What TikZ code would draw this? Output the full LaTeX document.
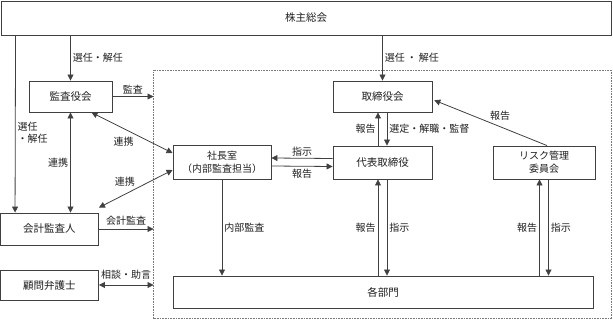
\documentclass[tikz,border=0pt]{standalone}
\usepackage{fontspec}
\setmainfont{Noto Sans CJK JP}
\usetikzlibrary{arrows.meta,positioning,calc}
\definecolor{ln}{HTML}{404040}
\definecolor{txt}{HTML}{202020}
\tikzset{
  box/.style={draw=ln,line width=0.9pt,fill=white,align=center,inner sep=2pt,font=\fontsize{10.5}{13}\selectfont,text=txt},
  lbl/.style={font=\fontsize{10}{12}\selectfont,text=txt,inner sep=2pt},
  ar/.style={-{Triangle[length=6pt,width=6pt]},line width=0.8pt,draw=ln},
  dar/.style={{Triangle[length=6pt,width=6pt]}-{Triangle[length=6pt,width=6pt]},line width=0.8pt,draw=ln},
}
\begin{document}
\begin{tikzpicture}[x=1pt,y=-1pt]
\useasboundingbox (0,0) rectangle (613,320);
% frame of the company side
\draw[ln!70,densely dotted,line width=0.6pt] (153.5,70.5) rectangle (611.5,318.5);
\coordinate (frameW) at (153.5,70.5);

% boxes
\node[box,minimum width=610pt,minimum height=34pt] (soukai) at (306,18) {株主総会};
\node[box,minimum width=83pt,minimum height=31pt] (kansa) at (70.5,96.5) {監査役会};
\node[box,minimum width=99pt,minimum height=31pt] (torishimari) at (382.5,96.5) {取締役会};
\node[box,minimum width=98pt,minimum height=34pt,font=\fontsize{10}{13}\selectfont] (shacho) at (222,162) {社長室\\（内部監査担当）};
\node[box,minimum width=99pt,minimum height=33pt] (daihyo) at (382.5,162.5) {代表取締役};
\node[box,minimum width=102pt,minimum height=33pt,font=\fontsize{10}{13}\selectfont] (risk) at (544,162.5) {リスク管理\\委員会};
\node[box,minimum width=98pt,minimum height=32pt] (kaikei) at (49.5,229) {会計監査人};
\node[box,minimum width=98pt,minimum height=30pt] (komon) at (49.5,285) {顧問弁護士};
\node[box,minimum width=420pt,minimum height=32pt] (bumon) at (383,292) {各部門};

% shareholders
\draw[ar] ([xshift=15pt]soukai.south west |- soukai.south) -- ([xshift=15pt]kaikei.north west)
  node[lbl,pos=0.55,right,align=left] {選任\\・解任};
\draw[ar] (soukai.south -| kansa) -- (kansa.north)
  node[lbl,midway,right] {選任・解任};
\draw[ar] (soukai.south -| torishimari) -- (torishimari.north)
  node[lbl,midway,right] {選任\hspace{2pt}・\hspace{2pt}解任};

% auditors
\draw[ar] (kansa.east) -- (kansa.east -| frameW) node[lbl,midway,above] {監査};
\draw[dar] (kansa.south) -- (kansa.south |- kaikei.north) node[lbl,midway,left] {連携};
\draw[dar] ([xshift=21pt]kansa.south) -- ([yshift=9pt]shacho.west) node[lbl,pos=0.55,below left] {連携};
\draw[dar] ([yshift=5pt]kaikei.north east) -- ([yshift=-8pt]shacho.west) node[lbl,pos=0.38,above=5pt,xshift=-2pt] {連携};
\draw[ar] (kaikei.east) -- (kaikei.east -| frameW) node[lbl,midway,above,yshift=1pt] {会計監査};
\draw[dar] (komon.east) -- (komon.east -| frameW) node[lbl,midway,above=3pt] {相談・助言};

% management
\draw[ar] ([yshift=4pt]daihyo.west) -- ([yshift=4pt]shacho.east) node[lbl,midway,above] {指示};
\draw[ar] ([yshift=-4pt]shacho.east) -- ([yshift=-4pt]daihyo.west) node[lbl,midway,below] {報告};
\draw[ar] ([xshift=-4.5pt]daihyo.north) -- ([xshift=-4.5pt]torishimari.south) node[lbl,midway,left] {報告};
\draw[ar] ([xshift=4.5pt]torishimari.south) -- ([xshift=4.5pt]daihyo.north) node[lbl,midway,right] {選定・解職・監督};
\draw[ar] ([xshift=-4.5pt]daihyo.south |- bumon.north) -- ([xshift=-4.5pt]daihyo.south) node[lbl,midway,left] {報告};
\draw[ar] ([xshift=4.5pt]daihyo.south) -- ([xshift=4.5pt]daihyo.south |- bumon.north) node[lbl,midway,right] {指示};
\draw[ar] (shacho.south) -- (shacho.south |- bumon.north) node[lbl,midway,right] {内部監査};

% risk committee
\draw[ar] ([xshift=-4.5pt]risk.south |- bumon.north) -- ([xshift=-4.5pt]risk.south) node[lbl,midway,left] {報告};
\draw[ar] ([xshift=4.5pt]risk.south) -- ([xshift=4.5pt]risk.south |- bumon.north) node[lbl,midway,right] {指示};
\draw[ar,shorten >=2pt] ([xshift=3pt]risk.north) -- ([yshift=-3pt]torishimari.east) node[lbl,midway,above right,xshift=-2pt] {報告};
\end{tikzpicture}
\end{document}
